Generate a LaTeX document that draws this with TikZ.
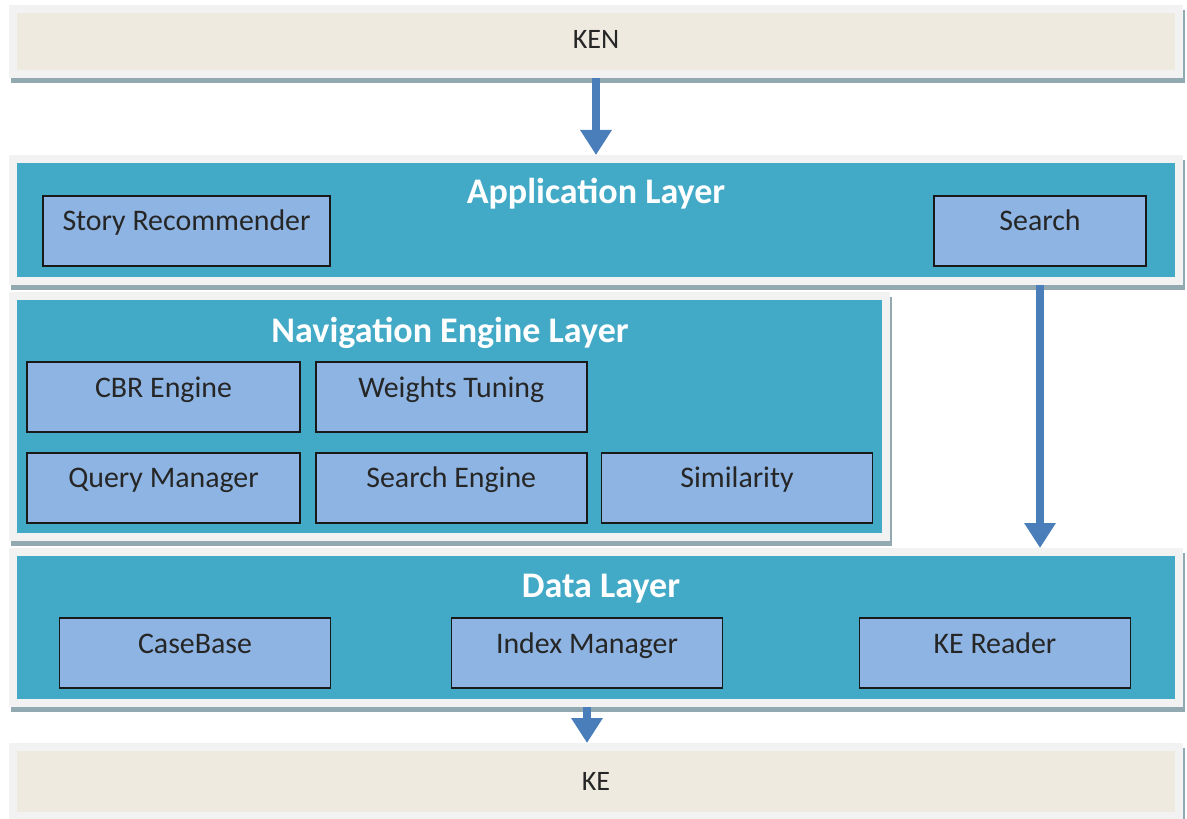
\documentclass[tikz,border=0pt]{standalone}
\usepackage{fontspec}
\setmainfont{Carlito}
\usetikzlibrary{arrows.meta,shadows,positioning}
\definecolor{framegray}{HTML}{F2F2F2}
\definecolor{shadowgray}{HTML}{93A9B1}
\definecolor{sandfill}{HTML}{EEEAE0}
\definecolor{layerteal}{HTML}{42AAC7}
\definecolor{compblue}{HTML}{8DB4E2}
\definecolor{flowblue}{HTML}{4A7EBB}
\tikzset{
    layer/.style={draw=framegray, line width=0.16cm, fill=layerteal, inner sep=0pt,
        drop shadow={shadow xshift=0.04cm, shadow yshift=-0.1cm, opacity=1, fill=shadowgray, draw=shadowgray, line width=0.16cm}},
    ends/.style={layer, fill=sandfill, text=black!85, font=\fontsize{16}{19}\selectfont},
    comp/.style={draw=black!90, line width=1pt, fill=compblue, minimum width=5.42cm, minimum height=1.4cm, inner sep=0pt, text height=0.3cm, text depth=0.3cm, text=black!85, font=\fontsize{17}{20}\selectfont},
    title/.style={text=white, font=\bfseries\fontsize{20.5}{24}\selectfont},
    flow/.style={-{Triangle[width=0.6cm, length=0.5cm]}, line width=0.16cm, flowblue}
}
\begin{document}
\begin{tikzpicture}[node distance=0.38cm and 0.28cm]
\useasboundingbox (0,0) rectangle (23.74,16.36);
\node[ends, minimum width=23.32cm, minimum height=1.3cm, text depth=0.1cm] (ken) at (11.92,15.53) {KEN};
\node[layer, minimum width=23.32cm, minimum height=2.44cm] (app) at (11.92,11.96) {};
\node[layer, minimum width=17.46cm, minimum height=4.82cm] (nav) at (8.99,8.03) {};
\node[layer, minimum width=23.32cm, minimum height=3.02cm] (data) at (11.92,3.81) {};
\node[ends, minimum width=23.32cm, minimum height=1.38cm] (ke) at (11.92,0.73) {KE};

\node[title] (apptitle) at (11.92,12.48) {Application Layer};
\node[title] (navtitle) at (9.0,9.7) {Navigation Engine Layer};
\node[title] (datatitle) at (12.02,4.58) {Data Layer};

\node[comp, minimum width=5.74cm] (story) at (3.73,11.74) {Story Recommender};
\node[comp, minimum width=4.24cm] (search) at (20.8,11.74) {Search};
\node[comp, minimum width=5.46cm] (cbr) at (3.27,8.42) {CBR Engine};
\node[comp, right=of cbr] (weights) {Weights Tuning};
\node[comp, minimum width=5.46cm, below=of cbr] (query) {Query Manager};
\node[comp, right=of query] (seng) {Search Engine};
\node[comp, right=0.26cm of seng] (simil) {Similarity};
\node[comp] (casebase) at (3.9,3.3) {CaseBase};
\node[comp] (index) at (11.74,3.3) {Index Manager};
\node[comp] (kereader) at (19.9,3.3) {KE Reader};

\draw[flow] (ken.south) -- (app.north);
\draw[flow] (app.south -| search) -- (data.north -| search);
\draw[flow] (data.south -| index) -- (ke.north -| index);
\end{tikzpicture}
\end{document}
